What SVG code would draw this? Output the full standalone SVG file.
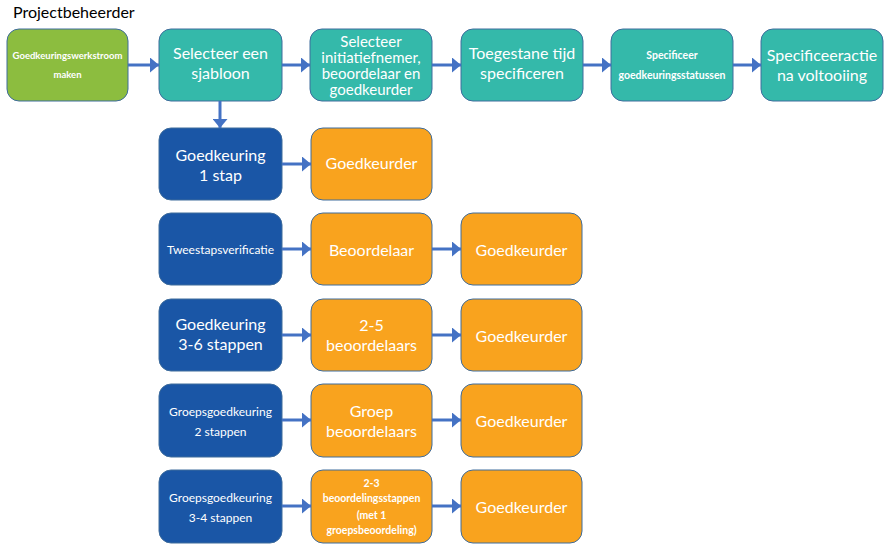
<svg xmlns="http://www.w3.org/2000/svg" width="891" height="554" viewBox="0 0 891 554">
<defs>
<marker id="ah" markerUnits="userSpaceOnUse" markerWidth="10" markerHeight="15" refX="9" refY="7.5" orient="auto">
<path d="M0,0 L9,7.5 L0,15 Z" fill="#4472C4"/>
</marker>
<style>
.box{stroke:#3E6C9C;stroke-width:1}
.g{fill:#8CBD3F}
.t{fill:#34B9AA}
.b{fill:#1A56A6}
.o{fill:#F9A31E}
text{font-family:Lato,"Liberation Sans",sans-serif;fill:#fff;text-anchor:middle}
.L{font-size:16px}
.L4{font-size:15px}
.S{font-size:10.5px;font-weight:bold}
.M{font-size:12px}
.c line{stroke:#4472C4;stroke-width:3;marker-end:url(#ah)}
</style>
</defs>
<rect width="891" height="554" fill="#fff"/>
<text x="13" y="18" style="font-size:16px;fill:#000;text-anchor:start">Projectbeheerder</text>

<g id="n1"><rect class="box g" x="7" y="29" width="121" height="72" rx="12"/>
<text class="S" x="67.5" y="59" style="font-size:9.5px">Goedkeuringswerkstroom</text><text class="S" x="67.5" y="78" style="font-size:9.5px">maken</text></g>
<g id="n2"><rect class="box t" x="159" y="29" width="123" height="72" rx="12"/>
<text class="L" x="220.5" y="59">Selecteer een</text><text class="L" x="220.5" y="79">sjabloon</text></g>
<g id="n3"><rect class="box t" x="310" y="29" width="122" height="72" rx="12"/>
<text class="L4" x="371" y="47">Selecteer</text><text class="L4" x="371" y="63">initiatiefnemer,</text><text class="L4" x="371" y="79">beoordelaar en</text><text class="L4" x="371" y="95">goedkeurder</text></g>
<g id="n4"><rect class="box t" x="461" y="29" width="122" height="72" rx="12"/>
<text class="L" x="522" y="59">Toegestane tijd</text><text class="L" x="522" y="79">specificeren</text></g>
<g id="n5"><rect class="box t" x="611" y="29" width="122" height="72" rx="12"/>
<text class="S" x="672" y="59">Specificeer</text><text class="S" x="672" y="79">goedkeuringsstatussen</text></g>
<g id="n6"><rect class="box t" x="761" y="29" width="122" height="72" rx="12"/>
<text class="L" x="822" y="61">Specificeeractie</text><text class="L" x="822" y="81">na voltooiing</text></g>

<g id="r2a"><rect class="box b" x="159" y="128" width="123" height="72" rx="12"/>
<text class="L" x="220.5" y="161">Goedkeuring</text><text class="L" x="220.5" y="181">1 stap</text></g>
<g id="r2b"><rect class="box o" x="311" y="128" width="121" height="72" rx="12"/>
<text class="L" x="371.5" y="169">Goedkeurder</text></g>

<g id="r3a"><rect class="box b" x="159" y="213" width="123" height="72" rx="12"/>
<text class="M" x="220.5" y="254">Tweestapsverificatie</text></g>
<g id="r3b"><rect class="box o" x="311" y="213" width="121" height="72" rx="12"/>
<text class="L" x="371.5" y="256">Beoordelaar</text></g>
<g id="r3c"><rect class="box o" x="461" y="213" width="121" height="72" rx="12"/>
<text class="L" x="521.5" y="256">Goedkeurder</text></g>

<g id="r4a"><rect class="box b" x="159" y="299" width="123" height="72" rx="12"/>
<text class="L" x="220.5" y="330">Goedkeuring</text><text class="L" x="220.5" y="350">3-6 stappen</text></g>
<g id="r4b"><rect class="box o" x="311" y="299" width="121" height="72" rx="12"/>
<text class="L" x="371.5" y="331">2-5</text><text class="L" x="371.5" y="351">beoordelaars</text></g>
<g id="r4c"><rect class="box o" x="461" y="299" width="121" height="72" rx="12"/>
<text class="L" x="521.5" y="342">Goedkeurder</text></g>

<g id="r5a"><rect class="box b" x="159" y="384" width="123" height="73" rx="12"/>
<text class="M" x="220.5" y="416">Groepsgoedkeuring</text><text class="M" x="220.5" y="436">2 stappen</text></g>
<g id="r5b"><rect class="box o" x="311" y="384" width="121" height="73" rx="12"/>
<text class="L" x="371.5" y="417">Groep</text><text class="L" x="371.5" y="437">beoordelaars</text></g>
<g id="r5c"><rect class="box o" x="461" y="384" width="121" height="73" rx="12"/>
<text class="L" x="521.5" y="427">Goedkeurder</text></g>

<g id="r6a"><rect class="box b" x="159" y="470" width="123" height="73" rx="12"/>
<text class="M" x="220.5" y="502">Groepsgoedkeuring</text><text class="M" x="220.5" y="522">3-4 stappen</text></g>
<g id="r6b"><rect class="box o" x="311" y="470" width="121" height="73" rx="12"/>
<text class="S" x="371.5" y="487">2-3</text><text class="S" x="371.5" y="502">beoordelingsstappen</text><text class="S" x="371.5" y="519">(met 1</text><text class="S" x="371.5" y="534">groepsbeoordeling)</text></g>
<g id="r6c"><rect class="box o" x="461" y="470" width="121" height="73" rx="12"/>
<text class="L" x="521.5" y="513">Goedkeurder</text></g>

<g id="connectors" class="c">
<line x1="128" y1="65" x2="159" y2="65"/>
<line x1="282" y1="65" x2="310" y2="65"/>
<line x1="432" y1="65" x2="461" y2="65"/>
<line x1="583" y1="65" x2="611" y2="65"/>
<line x1="733" y1="65" x2="761" y2="65"/>
<line x1="220" y1="101" x2="220" y2="128"/>
<line x1="282" y1="164" x2="311" y2="164"/>
<line x1="282" y1="249" x2="311" y2="249"/>
<line x1="432" y1="249" x2="461" y2="249"/>
<line x1="282" y1="335" x2="311" y2="335"/>
<line x1="432" y1="335" x2="461" y2="335"/>
<line x1="282" y1="420" x2="311" y2="420"/>
<line x1="432" y1="420" x2="461" y2="420"/>
<line x1="282" y1="506" x2="311" y2="506"/>
<line x1="432" y1="506" x2="461" y2="506"/>
</g>
</svg>
